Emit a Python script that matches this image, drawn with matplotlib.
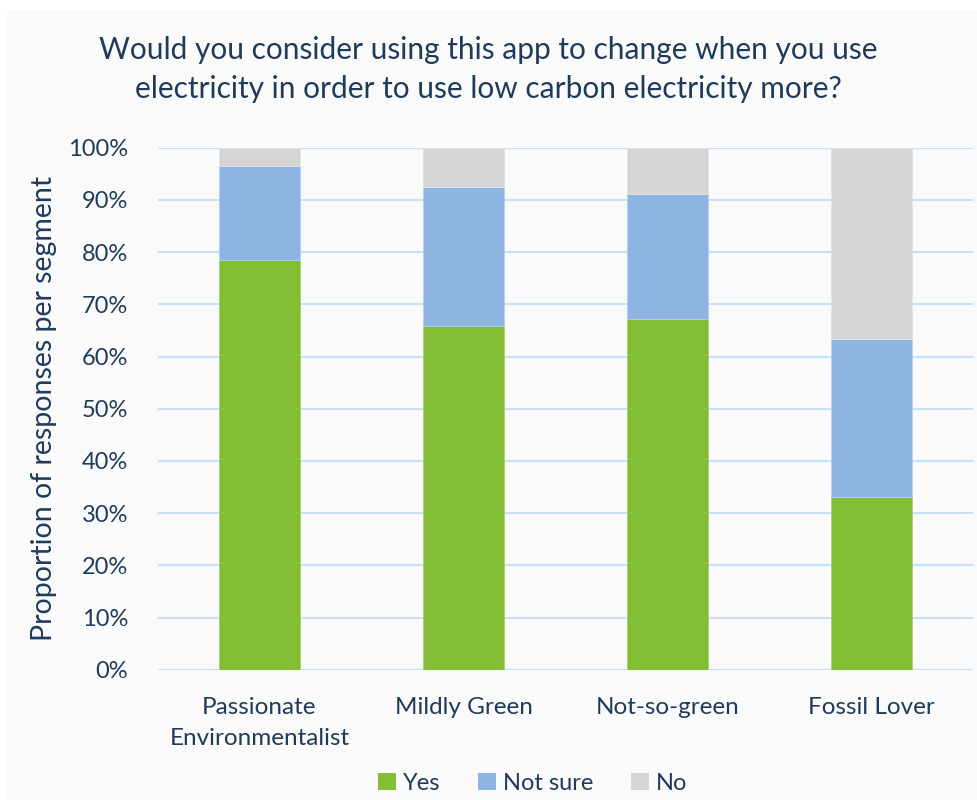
import numpy as np
import matplotlib.pyplot as plt
from matplotlib.patches import Rectangle, Patch
from matplotlib.ticker import PercentFormatter

segments = ["Passionate\nEnvironmentalist", "Mildly Green", "Not-so-green", "Fossil Lover"]
yes = [78.5, 65.8, 67.1, 33.1]
not_sure = [18.0, 26.6, 24.0, 30.3]
no = [3.5, 7.6, 8.9, 36.6]

green = '#82BF35'
blue = '#8EB4E2'
grey = '#D5D5D5'
text_col = '#1F3B5A'

plt.rcParams['font.family'] = ['Lato', 'DejaVu Sans']

fig = plt.figure(figsize=(9.77, 8), dpi=100)
fig.patch.set_facecolor('white')
# light panel behind the chart
fig.patches.append(Rectangle((7 / 977, 0), 970 / 977, 790 / 800, transform=fig.transFigure,
                             facecolor='#FAFAFA', edgecolor='none', zorder=-1))

ax = fig.add_axes([157.5 / 977, 130.3 / 800, 816 / 977, 522 / 800])
ax.set_facecolor('#FAFAFA')

x = np.arange(len(segments))
yes = np.array(yes)
not_sure = np.array(not_sure)
no = np.array(no)
w = 0.4
ax.bar(x, yes, w, color=green, edgecolor='#A8D070', linewidth=0.6, zorder=3, label='Yes')
ax.bar(x, not_sure, w, bottom=yes, color=blue, edgecolor='#B5CFEF', linewidth=0.6, zorder=3, label='Not sure')
ax.bar(x, no, w, bottom=yes + not_sure, color=grey, edgecolor='#E2E2E2', linewidth=0.6, zorder=3, label='No')

ax.set_xlim(-0.5, 3.5)
ax.set_ylim(0, 100)
ax.set_yticks(np.arange(0, 101, 10))
ax.yaxis.set_major_formatter(PercentFormatter(decimals=0))
ax.grid(axis='y', color='#C9DFF6', linewidth=1.5, zorder=0)
for s in ax.spines.values():
    s.set_visible(False)
ax.tick_params(axis='both', length=0, labelcolor=text_col)
ax.tick_params(axis='y', pad=21, labelsize=17)
ax.tick_params(axis='x', pad=20, labelsize=17.5)
ax.set_xticks(x, segments, linespacing=1.55)

ax.set_ylabel('Proportion of responses per segment', fontsize=20.5, color=text_col, labelpad=8)

fig.text(0.5, 0.913, 'Would you consider using this app to change when you use\n'
         'electricity in order to use low carbon electricity more?',
         ha='center', va='center', fontsize=21.5, color=text_col, linespacing=1.45)

handles = [Patch(facecolor=green), Patch(facecolor=blue), Patch(facecolor=grey)]
fig.legend(handles, ['Yes', 'Not sure', 'No'], loc='center', bbox_to_anchor=(0.545, 0.021),
           ncol=3, frameon=False, fontsize=17, labelcolor=text_col,
           handlelength=0.75, handleheight=0.75, handletextpad=0.3, columnspacing=1.6)

fig.savefig('out.png', dpi=100, facecolor=fig.get_facecolor())
